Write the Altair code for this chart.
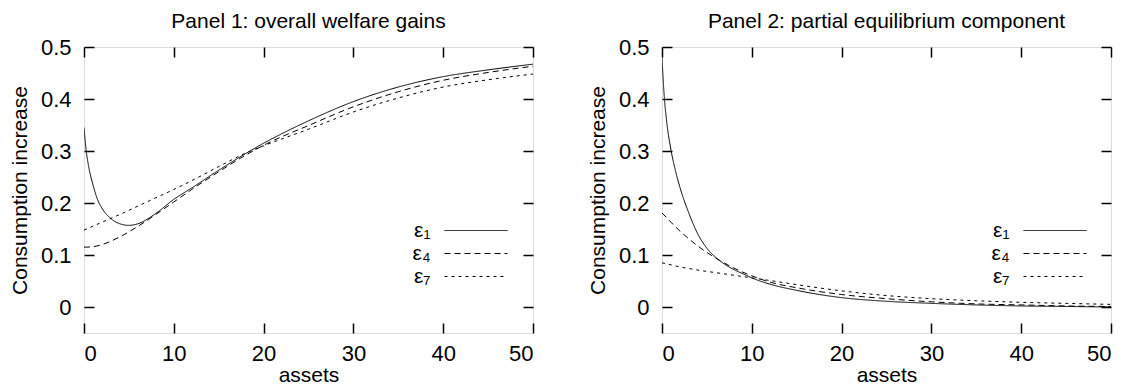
import altair as alt
import pandas as pd

FONT = "Liberation Sans"

series_names = ["ε₁", "ε₄", "ε₇"]

# Panel 1: overall welfare gains
p1_e1_x = [0, 0.25, 0.5, 1, 1.5, 2, 3, 4, 5, 6, 8, 10, 12, 15, 18, 20, 22, 25, 30, 35, 40, 45, 50]
p1_e1_y = [0.345, 0.3, 0.272, 0.235, 0.207, 0.19, 0.17, 0.16, 0.157, 0.16, 0.18, 0.207, 0.229, 0.263, 0.295, 0.315, 0.333, 0.358, 0.395, 0.423, 0.443, 0.456, 0.467]
p1_e4_x = [0, 1, 2, 4, 6, 8, 10, 12, 15, 18, 20, 25, 30, 35, 40, 45, 50]
p1_e4_y = [0.115, 0.116, 0.12, 0.135, 0.155, 0.178, 0.202, 0.226, 0.26, 0.292, 0.311, 0.349, 0.385, 0.414, 0.436, 0.451, 0.463]
p1_e7_x = [0, 2, 4, 6, 8, 10, 12, 15, 18, 20, 22, 25, 30, 35, 40, 45, 50]
p1_e7_y = [0.148, 0.163, 0.178, 0.194, 0.21, 0.226, 0.243, 0.27, 0.296, 0.31, 0.323, 0.342, 0.375, 0.402, 0.423, 0.437, 0.448]

# Panel 2: partial equilibrium component
p2_e1_x = [0, 0.25, 0.5, 1, 1.5, 2, 3, 4, 5, 6, 7, 8, 9, 10, 12, 15, 20, 25, 30, 35, 40, 45, 50]
p2_e1_y = [0.48, 0.405, 0.36, 0.302, 0.262, 0.23, 0.18, 0.14, 0.113, 0.095, 0.082, 0.072, 0.064, 0.056, 0.044, 0.032, 0.018, 0.011, 0.007, 0.004, 0.002, 0.001, 0.0]
p2_e4_x = [0, 1, 2, 3, 4, 5, 6, 7, 8, 9, 10, 12, 15, 20, 25, 30, 35, 40, 45, 50]
p2_e4_y = [0.181, 0.163, 0.146, 0.131, 0.117, 0.105, 0.094, 0.084, 0.075, 0.067, 0.06, 0.048, 0.037, 0.024, 0.016, 0.01, 0.006, 0.004, 0.002, 0.001]
p2_e7_x = [0, 1, 2, 3, 4, 6, 8, 10, 12, 15, 20, 25, 30, 35, 40, 45, 50]
p2_e7_y = [0.085, 0.081, 0.077, 0.074, 0.071, 0.066, 0.061, 0.056, 0.051, 0.043, 0.031, 0.022, 0.016, 0.012, 0.009, 0.007, 0.005]

x_ticks = [0, 10, 20, 30, 40, 50]
y_ticks = [0, 0.1, 0.2, 0.3, 0.4, 0.5]


def frame(pairs):
    rows = []
    for name, xs, ys in pairs:
        for i, (a, b) in enumerate(zip(xs, ys)):
            rows.append({"series": name, "x": a, "y": b, "order": i})
    return pd.DataFrame(rows)


df1 = frame([(series_names[0], p1_e1_x, p1_e1_y), (series_names[1], p1_e4_x, p1_e4_y), (series_names[2], p1_e7_x, p1_e7_y)])
df2 = frame([(series_names[0], p2_e1_x, p2_e1_y), (series_names[1], p2_e4_x, p2_e4_y), (series_names[2], p2_e7_x, p2_e7_y)])

xscale = alt.Scale(domain=[0, 50], nice=False, zero=False)
yscale = alt.Scale(domain=[-0.05, 0.5], nice=False, zero=False)

common_axis = dict(domain=False, grid=False, tickSize=10, tickWidth=1.5, tickColor="black",
                   offset=-10, labelFont=FONT, labelFontSize=22, labelColor="black",
                   titleFont=FONT, titleFontSize=21, titleFontWeight="normal", titleColor="black")


def panel(df, title, lx, ly):
    bottom = alt.Axis(orient="bottom", values=x_ticks, labelExpr="'' + datum.value", labelPadding=10,
                      title="assets", titlePadding=0, **common_axis)
    left = alt.Axis(orient="left", values=y_ticks, labelExpr="'' + datum.value", labelPadding=13,
                    title="Consumption increase", titlePadding=10, **common_axis)
    top = alt.Axis(orient="top", values=x_ticks, labels=False, title=None, **common_axis)
    right = alt.Axis(orient="right", values=y_ticks, labels=False, title=None, **common_axis)

    lines = alt.Chart(df).mark_line(color="black", strokeWidth=1, interpolate="monotone", clip=True).encode(
        x=alt.X("x:Q", scale=xscale, axis=bottom),
        y=alt.Y("y:Q", scale=yscale, axis=left),
        strokeDash=alt.StrokeDash(
            "series:N",
            scale=alt.Scale(domain=series_names, range=[[1, 0], [6, 4], [3, 4]]),
            legend=alt.Legend(orient="none", legendX=lx, legendY=ly, title=None,
                              symbolType="M-3.5,0H3.5", symbolSize=324, symbolStrokeWidth=1,
                              symbolStrokeColor="black", symbolOpacity=1,
                              labelAlign="right", labelOffset={"expr": "-56"},
                              labelFont=FONT, labelFontSize=21, labelColor="black",
                              rowPadding=1),
        ),
        order="order:Q",
    )
    mirror = alt.Chart(df).mark_line(strokeOpacity=0).encode(
        x=alt.X("x:Q", scale=xscale, axis=top),
        y=alt.Y("y:Q", scale=yscale, axis=right),
        detail="series:N",
    )
    return alt.layer(lines, mirror).resolve_axis(x="independent", y="independent").properties(
        width=449, height=286,
        title=alt.TitleParams(title, font=FONT, fontSize=21, fontWeight="normal", color="black",
                              anchor="middle", frame="group", offset=4),
    )


chart = alt.hconcat(
    panel(df1, "Panel 1: overall welfare gains", 381.5, 173),
    panel(df2, "Panel 2: partial equilibrium component", 382.5, 173),
    spacing=51,
).resolve_legend(strokeDash="independent").properties(
    padding={"left": 0, "top": 2, "right": 0, "bottom": 0}
).configure_view(stroke="black", strokeWidth=1.5).configure(background="white")

chart.save("out.html", embed_options={"renderer": "svg", "actions": False})
